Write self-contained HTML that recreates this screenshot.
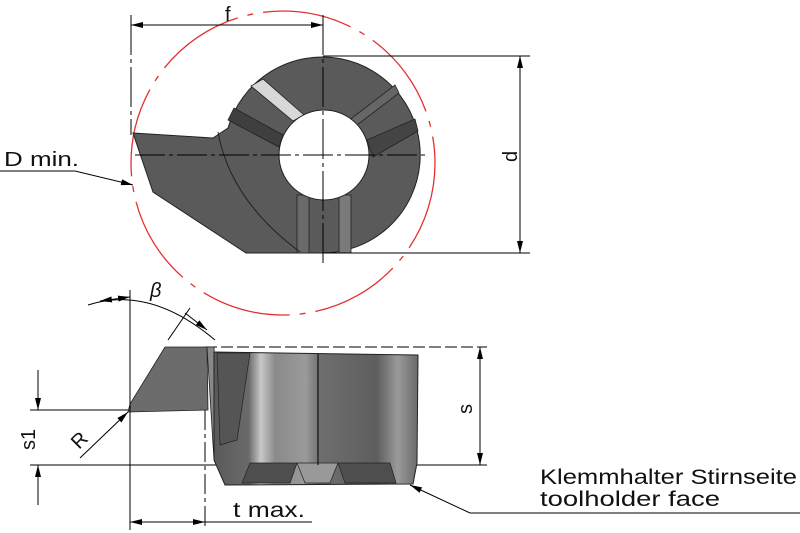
<!DOCTYPE html>
<html><head><meta charset="utf-8"><style>
html,body{margin:0;padding:0;background:#fff;}
svg{display:block;}
text{font-family:"Liberation Sans",sans-serif;fill:#111;}
</style></head><body>
<svg width="800" height="533" viewBox="0 0 800 533" xmlns="http://www.w3.org/2000/svg">
<defs>
<marker id="a" viewBox="0 0 12 6" refX="12" refY="3" markerWidth="12" markerHeight="6" orient="auto-start-reverse" markerUnits="userSpaceOnUse"><path d="M0,0 L12,3 L0,6 Z" fill="#000"/></marker>
<linearGradient id="cyl" x1="0" x2="1" y1="0" y2="0">
<stop offset="0" stop-color="#5a5a5a"/><stop offset="0.17" stop-color="#6a6a6a"/><stop offset="0.23" stop-color="#c8c8c8"/><stop offset="0.3" stop-color="#8a8a8a"/><stop offset="0.45" stop-color="#9a9a9a"/><stop offset="0.52" stop-color="#6e6e6e"/><stop offset="0.8" stop-color="#5e5e5e"/><stop offset="0.9" stop-color="#9a9a9a"/><stop offset="1" stop-color="#6a6a6a"/>
</linearGradient>
</defs>
<circle cx="283" cy="163" r="152" fill="none" stroke="#e53030" stroke-width="1.3" stroke-dasharray="90,10,6,10"/>
<path d="M133,133 L213,138 L228,128 A98,98 0 1 1 323,253 L246,253 L153,192 Z" fill="#5a5a5a" stroke="#222" stroke-width="1"/>
<polygon points="251,86 263,79 304,115 293,121" fill="#d8d8d8" stroke="#222" stroke-width="0.8"/>
<polygon points="228,120 234,108 283,135 279,147" fill="#3f3f3f" stroke="#222" stroke-width="0.8"/>
<polygon points="348,121 395,85 399,93 357,125" fill="#666" stroke="#222" stroke-width="0.8"/>
<polygon points="367,140 415,119 418,131 373,157" fill="#444" stroke="#222" stroke-width="0.8"/>
<rect x="297" y="195" width="12" height="58" fill="#6a6a6a" stroke="#222" stroke-width="0.8"/>
<rect x="339" y="195" width="12" height="58" fill="#7a7a7a" stroke="#222" stroke-width="0.8"/>
<path d="M218,132 Q230,200 300,252" fill="none" stroke="#222" stroke-width="1"/>
<circle cx="324" cy="155" r="45" fill="#fff" stroke="#222" stroke-width="1"/>
<line x1="135" y1="155" x2="428" y2="155" stroke="#000" stroke-width="1" stroke-dasharray="30,4,4,4"/>
<line x1="323" y1="15" x2="323" y2="265" stroke="#000" stroke-width="1" stroke-dasharray="40,4,4,4"/>
<line x1="131" y1="15" x2="131" y2="135" stroke="#000" stroke-width="1" stroke-dasharray="40,4,4,4"/>
<line x1="131" y1="25" x2="323" y2="25" stroke="#000" stroke-width="1" marker-start="url(#a)" marker-end="url(#a)"/>
<text x="225" y="21" font-size="20">f</text>
<line x1="323" y1="56" x2="530" y2="56" stroke="#000" stroke-width="1"/>
<line x1="323" y1="253" x2="530" y2="253" stroke="#000" stroke-width="1"/>
<line x1="520" y1="56" x2="520" y2="253" stroke="#000" stroke-width="1" marker-start="url(#a)" marker-end="url(#a)"/>
<text x="0" y="0" font-size="20" transform="translate(517,162) rotate(-90)">d</text>
<text x="4" y="166" font-size="20" textLength="75" lengthAdjust="spacingAndGlyphs">D min.</text>
<polyline points="0,171 75,171 133,185" fill="none" stroke="#000" stroke-width="1" marker-end="url(#a)"/>
<line x1="205" y1="347" x2="487" y2="347" stroke="#000" stroke-width="1" stroke-dasharray="12,4"/>
<line x1="30" y1="465" x2="487" y2="465" stroke="#000" stroke-width="1"/>
<line x1="30" y1="410" x2="130" y2="410" stroke="#000" stroke-width="1"/>
<polygon points="165,347 207,347 208,410 128,412 130,404" fill="#6c6c6c" stroke="#222" stroke-width="0.8"/>
<polygon points="207,347 214,347 218,460 214,460" fill="#888" stroke="#222" stroke-width="0.8"/>
<polygon points="214,352 418,355 417,463 413,484 225,485 214,460" fill="url(#cyl)" stroke="#222" stroke-width="1"/>
<polygon points="217,353 250,353 237,440 220,445" fill="#555" stroke="#222" stroke-width="0.7"/>
<polygon points="250,463 297,463 290,483 242,483" fill="#4e4e4e" stroke="#222" stroke-width="0.7"/>
<polygon points="297,463 338,463 330,483 305,483" fill="#999" stroke="#222" stroke-width="0.7"/>
<polygon points="338,463 390,463 396,483 345,483" fill="#4e4e4e" stroke="#222" stroke-width="0.7"/>
<line x1="318" y1="354" x2="318" y2="465" stroke="#111" stroke-width="1.2"/>
<line x1="130" y1="290" x2="130" y2="530" stroke="#000" stroke-width="1"/>
<line x1="205" y1="410" x2="205" y2="530" stroke="#000" stroke-width="1" stroke-dasharray="20,4,4,4"/>
<path d="M88,305 Q150,285 215,340" fill="none" stroke="#000" stroke-width="1"/>
<line x1="130" y1="297" x2="100" y2="301" stroke="#000" stroke-width="1" marker-end="url(#a)" marker-start="url(#a)"/>
<line x1="168" y1="340" x2="190" y2="308" stroke="#000" stroke-width="1"/>
<line x1="185" y1="313" x2="207" y2="330" stroke="#000" stroke-width="1" marker-end="url(#a)"/>
<text x="150" y="297" font-size="20" font-style="italic">β</text>
<line x1="480" y1="347" x2="480" y2="465" stroke="#000" stroke-width="1" marker-start="url(#a)" marker-end="url(#a)"/>
<text x="0" y="0" font-size="20" transform="translate(472,414) rotate(-90)">s</text>
<line x1="38" y1="370" x2="38" y2="410" stroke="#000" stroke-width="1" marker-end="url(#a)"/>
<line x1="38" y1="505" x2="38" y2="465" stroke="#000" stroke-width="1" marker-end="url(#a)"/>
<text x="0" y="0" font-size="20" transform="translate(35,450) rotate(-90)">s1</text>
<line x1="80" y1="458" x2="128" y2="412" stroke="#000" stroke-width="1" marker-end="url(#a)"/>
<text x="0" y="0" font-size="20" transform="translate(79,450) rotate(-45)">R</text>
<line x1="130" y1="522" x2="205" y2="522" stroke="#000" stroke-width="1" marker-start="url(#a)" marker-end="url(#a)"/>
<line x1="205" y1="522" x2="312" y2="522" stroke="#000" stroke-width="1"/>
<text x="233" y="517" font-size="21" textLength="72" lengthAdjust="spacingAndGlyphs">t max.</text>
<polyline points="800,513 470,513 410,485" fill="none" stroke="#000" stroke-width="1" marker-end="url(#a)"/>
<text x="540" y="484" font-size="21" textLength="257" lengthAdjust="spacingAndGlyphs">Klemmhalter Stirnseite</text>
<text x="540" y="506" font-size="21" textLength="180" lengthAdjust="spacingAndGlyphs">toolholder face</text>
</svg>
</body></html>
